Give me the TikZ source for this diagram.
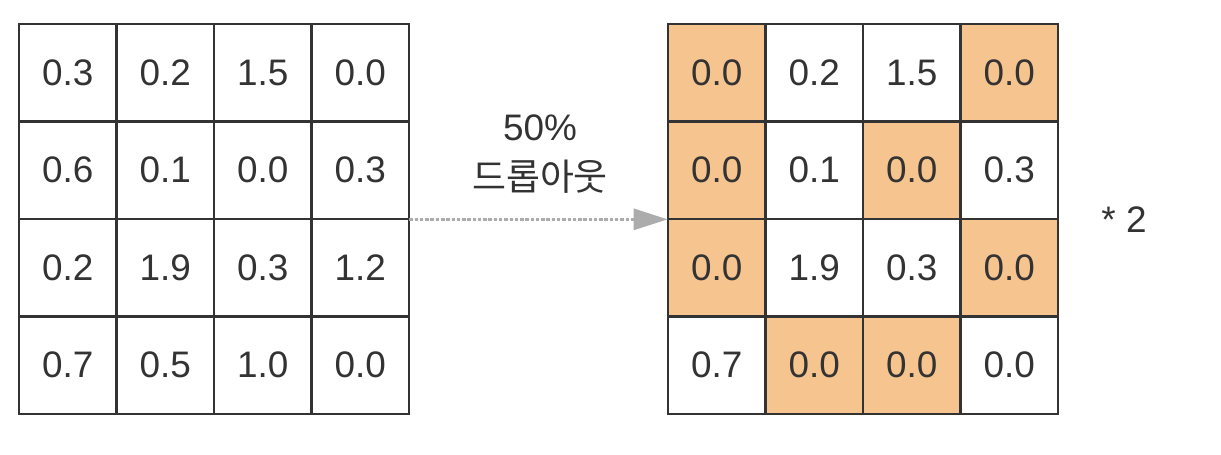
\documentclass[tikz,border=0pt]{standalone}
\usepackage{fontspec}
\setmainfont{Liberation Sans}
\newfontfamily\krfont{Noto Sans CJK KR}
\usetikzlibrary{arrows.meta, positioning}
\definecolor{dropcol}{HTML}{F6C48E}
\definecolor{inkcol}{HTML}{333333}
\begin{document}
\begin{tikzpicture}[
  cell/.style={rectangle, minimum width=1.95cm, minimum height=1.95cm, text=inkcol, font=\fontsize{21}{24}\selectfont},
  border/.style={draw=inkcol, line width=1.1pt},
  arrow/.style={-{Triangle[length=0.68cm, width=0.42cm]}, draw=gray!65, fill=gray!65, line width=1.6pt, dash pattern=on 2pt off 1pt},
  label/.style={text=inkcol, font=\fontsize{21}{28}\selectfont, align=center}
]
\useasboundingbox (0,0) rectangle (24.42,9.08);

% input
\foreach \row [count=\i] in {{0.3,0.2,1.5,0.0},{0.6,0.1,0.0,0.3},{0.2,1.9,0.3,1.2},{0.7,0.5,1.0,0.0}}
  \foreach \v [count=\j] in \row
    \node[cell, fill=white] (L-\i-\j) at ({0.38+1.95*(\j-0.5)},{8.6-1.95*(\i-0.5)}) {\v};

% after dropout
\foreach \row [count=\i] in {{dropcol/0.0,white/0.2,white/1.5,dropcol/0.0},{dropcol/0.0,white/0.1,dropcol/0.0,white/0.3},{dropcol/0.0,white/1.9,white/0.3,dropcol/0.0},{white/0.7,dropcol/0.0,dropcol/0.0,white/0.0}}
  \foreach \f/\v [count=\j] in \row
    \node[cell, fill=\f] (R-\i-\j) at ({13.36+1.95*(\j-0.5)},{8.6-1.95*(\i-0.5)}) {\v};

% cell borders on top
\foreach \i in {1,...,4}
  \foreach \j in {1,...,4} {
    \draw[border] (L-\i-\j.south west) rectangle (L-\i-\j.north east);
    \draw[border] (R-\i-\j.south west) rectangle (R-\i-\j.north east);
  }

\draw[arrow] (L-2-4.south east) -- (R-2-1.south west);
\node[label] (drop) at (10.8,6.0) {50\%\\{\krfont 드롭아웃}};
\node[label] (scale) at (22.48,4.68) {* 2};

\end{tikzpicture}
\end{document}
